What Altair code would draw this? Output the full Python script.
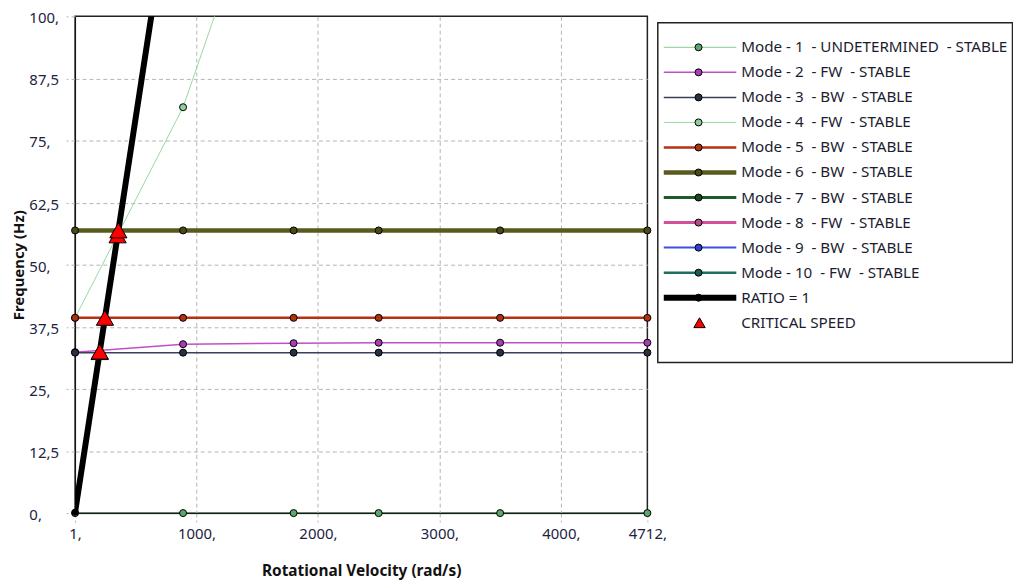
import altair as alt
import pandas as pd

# ---------------- data ----------------
speeds = [1, 890, 1800, 2500, 3500, 4712]

mode_labels = [
    "Mode - 1 \u00a0- UNDETERMINED \u00a0- STABLE",
    "Mode - 2 \u00a0- FW \u00a0- STABLE",
    "Mode - 3 \u00a0- BW \u00a0- STABLE",
    "Mode - 4 \u00a0- FW \u00a0- STABLE",
    "Mode - 5 \u00a0- BW \u00a0- STABLE",
    "Mode - 6 \u00a0- BW \u00a0- STABLE",
    "Mode - 7 \u00a0- BW \u00a0- STABLE",
    "Mode - 8 \u00a0- FW \u00a0- STABLE",
    "Mode - 9 \u00a0- BW \u00a0- STABLE",
    "Mode - 10 \u00a0- FW \u00a0- STABLE",
]
ratio_label = "RATIO = 1"
crit_label = "CRITICAL SPEED"

m1 = [0.0, 0.0, 0.0, 0.0, 0.0, 0.0]
m2 = [32.4, 34.0, 34.2, 34.3, 34.3, 34.3]
m3 = [32.3, 32.3, 32.3, 32.3, 32.3, 32.3]
m4 = [39.3, 81.7, 146.0, 190.0, 252.0, 318.0]
m5 = [39.3, 39.3, 39.3, 39.3, 39.3, 39.3]
m6 = [56.9, 56.9, 56.9, 56.9, 56.9, 56.9]
m7 = [112.0, 112.5, 113.0, 113.2, 113.4, 113.5]
m8 = [112.0, 150.0, 200.0, 235.0, 290.0, 355.0]
m9 = [131.0, 129.5, 128.0, 127.0, 126.0, 125.0]
m10 = [131.0, 170.0, 220.0, 255.0, 310.0, 375.0]
mode_values = [m1, m2, m3, m4, m5, m6, m7, m8, m9, m10]

ratio_values = [0.16, 141.6, 286.5, 397.9, 557.0, 750.0]

crit_x = [203.6, 204.5, 247.0, 351.0, 357.5]
crit_y = [32.4, 32.5, 39.3, 55.9, 56.9]

line_colors = ["#86c98f", "#c050c8", "#3a4058", "#9ad8a0", "#b83010",
               "#5a5a1e", "#1e5a2a", "#d0509a", "#3a50e0", "#1f6e60"]
point_fills = ["#5aa86c", "#a83cb8", "#2a3040", "#8ccf9a", "#b03010",
               "#4a4a18", "#1a4a22", "#b84890", "#3040d0", "#1a5a50"]
line_widths = [1.0, 1.5, 1.5, 1.0, 2.5, 4.5, 3.0, 3.0, 2.0, 2.5]

x_ticks = [1, 1000, 2000, 3000, 4000, 4712]
y_ticks = [0, 12.5, 25, 37.5, 50, 62.5, 75, 87.5, 100]

# ---------------- tables ----------------
rows = []
for i, vals in enumerate(mode_values):
    for s, v in zip(speeds, vals):
        rows.append({"mode": i + 1, "speed": s, "freq": v,
                     "lc": line_colors[i], "pf": point_fills[i],
                     "sw": line_widths[i]})
modes_df = pd.DataFrame(rows)
ratio_df = pd.DataFrame({"speed": speeds, "freq": ratio_values})
crit_df = pd.DataFrame({"speed": crit_x, "freq": crit_y})

FONT = "Noto Sans"
LABEL_COLOR = "#1c2340"
FS = 15
W, H = 576, 500

xscale = alt.Scale(domain=[1, 4712], nice=False, zero=False)
yscale = alt.Scale(domain=[0, 100], nice=False)

xaxis = alt.Axis(values=x_ticks, labelExpr="format(datum.value, 'd') + ','",
                 title="Rotational Velocity (rad/s)", grid=True,
                 gridDash=[4, 3], gridColor="#b4b4b4",
                 gridOpacity={"condition": {"test": "datum.value == 1 || datum.value == 4712",
                                            "value": 0}, "value": 1},
                 tickColor="#b4b4b4", tickDash=[4, 3], tickSize=9,
                 labelFlush=False, labelPadding=5, labelFontSize=FS,
                 labelColor=LABEL_COLOR, labelFont=FONT, domainColor="#111111",
                 titleFont=FONT, titleFontSize=15.5, titleFontWeight="bold",
                 titleColor="#111111", titleY=57.5, titleBaseline="middle")
yaxis = alt.Axis(values=y_ticks,
                 labelExpr="floor(datum.value) + ',' + (datum.value % 1 > 0 ? '5' : '')",
                 title="Frequency (Hz)", grid=True,
                 gridDash=[4, 3], gridColor="#b4b4b4",
                 gridOpacity={"condition": {"test": "datum.value == 0 || datum.value == 100",
                                            "value": 0}, "value": 1},
                 tickColor="#b4b4b4", tickDash=[4, 3], tickSize=9,
                 labelAlign="left", labelPadding=37.5, labelOffset=1.5,
                 labelFontSize=FS,
                 labelColor=LABEL_COLOR, labelFont=FONT, domainColor="#111111",
                 titleFont=FONT, titleFontSize=FS, titleFontWeight="bold",
                 titleColor="#111111", titleX=-57, titleY=250,
                 titleBaseline="middle")

mode_lines = alt.Chart(modes_df).mark_line(clip=True).encode(
    x=alt.X("speed:Q", scale=xscale, axis=xaxis),
    y=alt.Y("freq:Q", scale=yscale, axis=yaxis),
    detail="mode:N",
    order="speed:Q",
    color=alt.Color("lc:N", scale=None),
    strokeWidth=alt.StrokeWidth("sw:Q", scale=None),
)

ratio_line = alt.Chart(ratio_df).mark_line(clip=True, color="black",
                                           strokeWidth=6).encode(
    x=alt.X("speed:Q", scale=xscale),
    y=alt.Y("freq:Q", scale=yscale),
)

mode_points = alt.Chart(modes_df).transform_filter(
    "datum.freq <= 100"
).mark_point(filled=True, shape="circle", size=50, stroke="black",
             strokeWidth=1, opacity=1).encode(
    x=alt.X("speed:Q", scale=xscale),
    y=alt.Y("freq:Q", scale=yscale),
    fill=alt.Fill("pf:N", scale=None),
)

ratio_points = alt.Chart(ratio_df).transform_filter(
    "datum.freq <= 100"
).mark_point(filled=True, shape="circle", size=50, color="black",
             opacity=1).encode(
    x=alt.X("speed:Q", scale=xscale),
    y=alt.Y("freq:Q", scale=yscale),
)

crit_points = alt.Chart(crit_df).mark_point(
    filled=True, shape="triangle-up", size=300, fill="#ff0000",
    stroke="black", strokeWidth=1, opacity=1).encode(
    x=alt.X("speed:Q", scale=xscale),
    y=alt.Y("freq:Q", scale=yscale),
)

main = alt.layer(mode_lines, ratio_line, mode_points, ratio_points,
                 crit_points)

# ---------------- legend (drawn to the right of the plot) ----------------
leg_labels = mode_labels + [ratio_label, crit_label]
leg_kind = ["mode"] * 10 + ["ratio", "crit"]
leg_lc = line_colors + ["#000000", "#ff0000"]
leg_pf = point_fills + ["#000000", "#ff0000"]
leg_sw = line_widths + [6.0, 0.0]
leg_df = pd.DataFrame({"idx": list(range(12)), "label": leg_labels,
                       "kind": leg_kind, "lc": leg_lc, "pf": leg_pf,
                       "sw": leg_sw})

LX = W + 10.5  # left edge of legend box, relative to plot
leg_y = alt.Y("idx:Q", scale=alt.Scale(domain=[-1.238, 18.603], reverse=True,
                                       nice=False, zero=False), axis=None)

leg_base = alt.Chart(leg_df)
leg_lines = leg_base.transform_filter("datum.kind != 'crit'").mark_rule().encode(
    x=alt.value(LX + 6), x2=alt.value(LX + 79), y=leg_y,
    color=alt.Color("lc:N", scale=None),
    strokeWidth=alt.StrokeWidth("sw:Q", scale=None),
)
leg_circles = leg_base.transform_filter("datum.kind != 'crit'").mark_point(
    filled=True, shape="circle", size=50, stroke="black", strokeWidth=1,
    opacity=1).encode(
    x=alt.value(LX + 41), y=leg_y, fill=alt.Fill("pf:N", scale=None),
)
leg_tri = leg_base.transform_filter("datum.kind == 'crit'").mark_point(
    filled=True, shape="triangle-up", size=130, fill="#ff0000",
    stroke="black", strokeWidth=1, opacity=1).encode(
    x=alt.value(LX + 42), y=leg_y,
)
leg_text = leg_base.mark_text(align="left", baseline="middle", fontSize=15.3,
                              font=FONT, color="#1c1c30").encode(
    x=alt.value(LX + 84), y=leg_y, text="label:N",
)
box_df = pd.DataFrame({"b": [0]})
leg_box = alt.Chart(box_df).mark_rect(fill="white", stroke="#222222",
                                      strokeWidth=1.5).encode(
    x=alt.value(LX), x2=alt.value(LX + 357), y=alt.value(6.5),
    y2=alt.value(348.5),
)

legend = alt.layer(leg_box, leg_lines, leg_circles, leg_tri, leg_text)

chart = alt.layer(main, legend).resolve_scale(
    y="independent", color="independent", fill="independent",
    strokeWidth="independent"
).properties(
    width=W, height=H,
    autosize=alt.AutoSizeParams(type="none"),
    padding={"left": 67.5, "top": 6.5, "right": 368, "bottom": 70},
).configure(font=FONT).configure_view(stroke="#222222", strokeWidth=1.5)

chart.save("out.html", embed_options={"renderer": "svg", "actions": False})
